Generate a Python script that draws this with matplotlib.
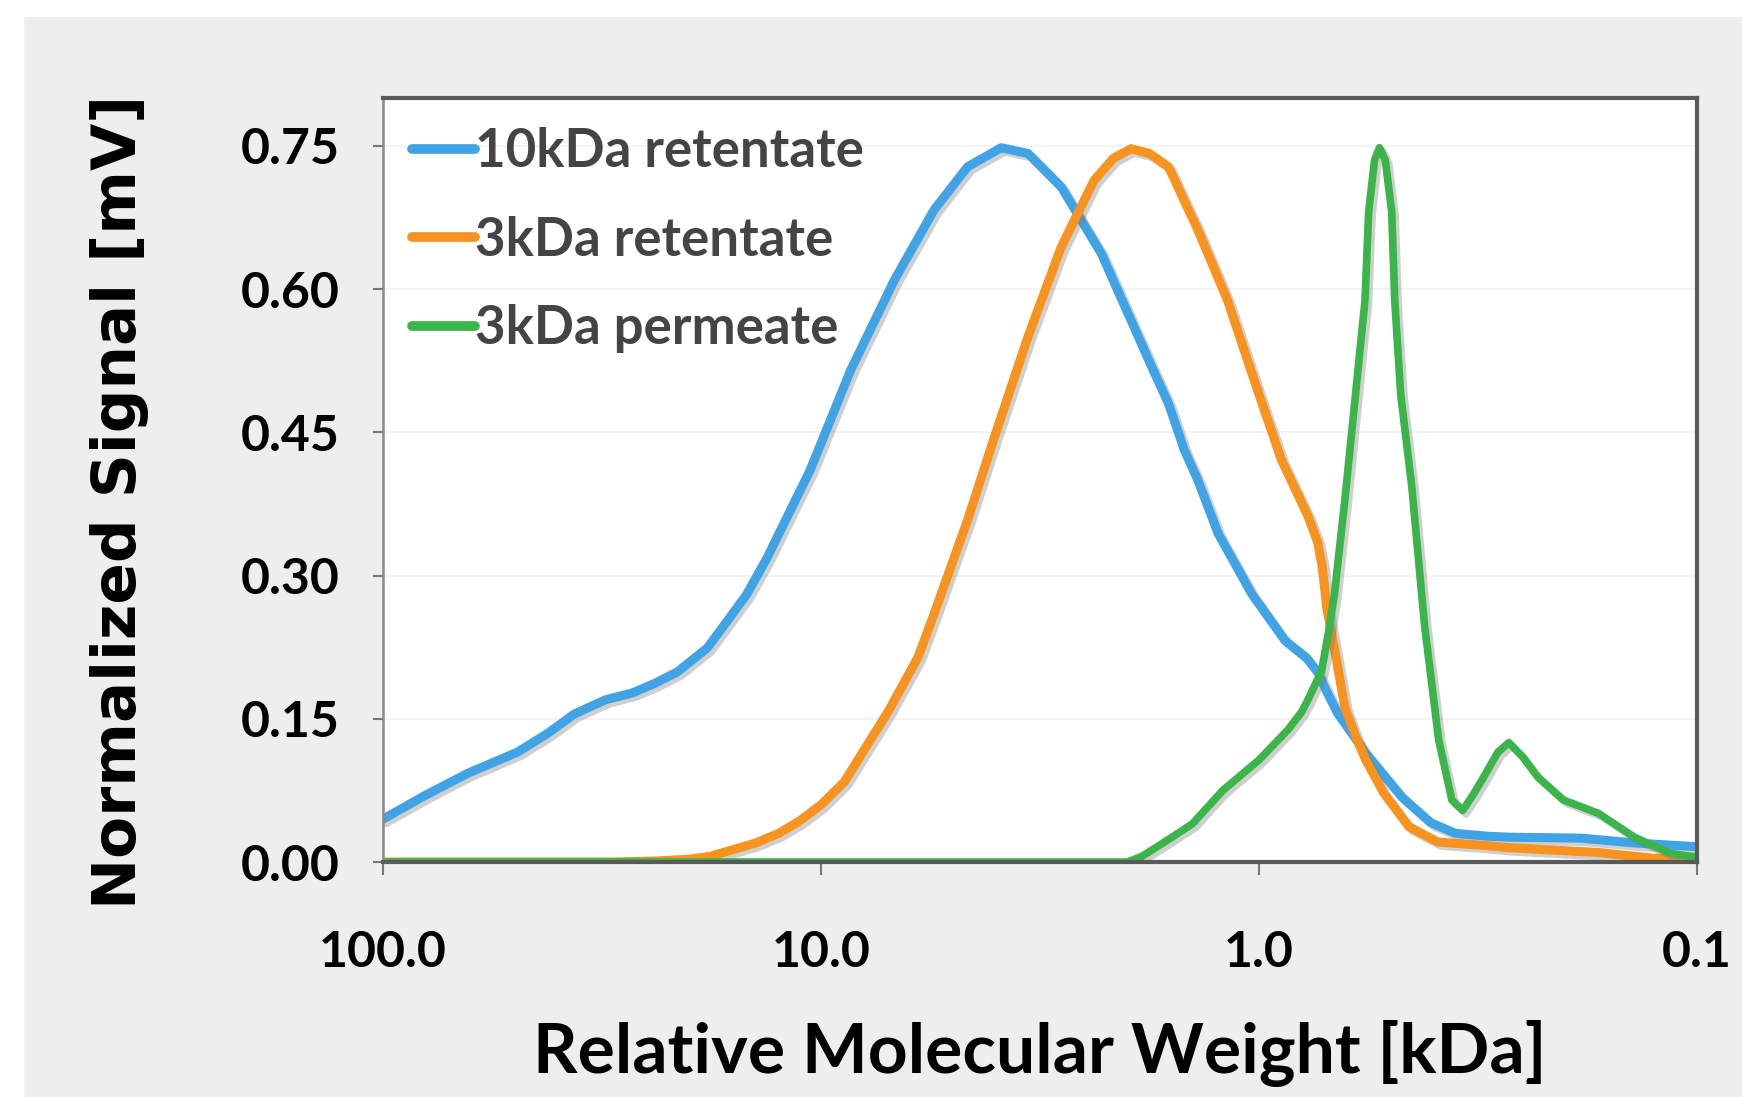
import numpy as np
import matplotlib
matplotlib.use('Agg')
import matplotlib.pyplot as plt
import matplotlib.patheffects as pe
from matplotlib.patches import Rectangle

# molecular weight [kDa] and normalized signal
mw_10k_ret = [100, 80, 64, 49.4, 42, 36.6, 31, 27.0, 24, 21.3, 18.2, 16.4, 14.8, 13.3,
              10.6, 8.56, 6.81, 5.52, 4.63, 3.88, 3.37, 2.83, 2.29, 2.10, 1.92, 1.76,
              1.61, 1.48, 1.38, 1.24, 1.04, 0.873, 0.78, 0.733, 0.70, 0.662, 0.571, 0.472,
              0.405, 0.356, 0.30, 0.269, 0.184, 0.139, 0.1]
sig_10k_ret = [0.045, 0.07, 0.093, 0.115, 0.135, 0.155, 0.17, 0.177, 0.187, 0.199, 0.224, 0.252, 0.28, 0.318,
               0.410, 0.515, 0.609, 0.683, 0.728, 0.748, 0.742, 0.707, 0.637, 0.598, 0.558, 0.519,
               0.48, 0.431, 0.40, 0.344, 0.281, 0.232, 0.214, 0.198, 0.178, 0.156, 0.114, 0.068,
               0.041, 0.030, 0.027, 0.026, 0.025, 0.02, 0.016]

mw_3k_ret = [100, 30, 24, 20, 17.9, 14.1, 12.5, 11.2, 10, 8.85, 7.0, 6.0, 5.52, 4.63,
             4.02, 3.37, 2.83, 2.38, 2.15, 1.96, 1.78, 1.61, 1.38, 1.18, 1.02, 0.889,
             0.773, 0.735, 0.718, 0.700, 0.672, 0.637, 0.600, 0.571, 0.519, 0.455, 0.391, 0.30,
             0.269, 0.168, 0.126, 0.1]
sig_3k_ret = [0.0, 0.0, 0.001, 0.003, 0.006, 0.02, 0.03, 0.043, 0.06, 0.084, 0.159, 0.215, 0.260, 0.358,
              0.445, 0.550, 0.644, 0.714, 0.737, 0.747, 0.742, 0.728, 0.662, 0.588, 0.501, 0.421,
              0.362, 0.335, 0.31, 0.265, 0.222, 0.162, 0.13, 0.107, 0.072, 0.037, 0.021, 0.017,
              0.015, 0.010, 0.004, 0.004]

mw_3k_perm = [100, 2.0, 1.85, 1.75, 1.58, 1.42, 1.21, 1.0, 0.861, 0.80, 0.773, 0.72, 0.695,
              0.673, 0.637, 0.604, 0.573, 0.562, 0.545, 0.531, 0.515, 0.498, 0.490, 0.475,
              0.448, 0.419, 0.389, 0.363, 0.343, 0.325, 0.307, 0.285, 0.269, 0.25, 0.231,
              0.202, 0.168, 0.139, 0.115, 0.1]
sig_3k_perm = [0.0, 0.0, 0.006, 0.013, 0.026, 0.04, 0.075, 0.107, 0.138, 0.157, 0.170, 0.20, 0.239,
               0.28, 0.379, 0.484, 0.588, 0.681, 0.735, 0.748, 0.735, 0.681, 0.588, 0.49,
               0.393, 0.248, 0.128, 0.065, 0.054, 0.07, 0.089, 0.115, 0.125, 0.11, 0.089,
               0.065, 0.051, 0.026, 0.009, 0.005]

series_names = ['10kDa retentate', '3kDa retentate', '3kDa permeate']
series_colors = ['#3fa3e5', '#f7931e', '#3bb54a']

y_ticks = [0.0, 0.15, 0.30, 0.45, 0.60, 0.75]
x_ticks = [100, 10, 1, 0.1]
x_tick_labels = ['100.0', '10.0', '1.0', '0.1']

narrow = ['Liberation Sans Narrow', 'Lato', 'DejaVu Sans']

fig = plt.figure(figsize=(17.42, 10.97), dpi=100)
fig.patch.set_facecolor('#eeeeee')
# white margin at the top and left of the scanned figure
fig.patches.append(Rectangle((0, 0.985), 1, 0.02, transform=fig.transFigure,
                             color='white', zorder=0))
fig.patches.append(Rectangle((0, 0), 0.013, 1, transform=fig.transFigure,
                             color='white', zorder=0))

ax = fig.add_axes([0.2199, 0.2142, 0.7543, 0.6964])
ax.set_facecolor('white')

shadow = [pe.SimpleLineShadow(offset=(2.5, -2.5), shadow_color='#777777', alpha=0.35), pe.Normal()]
data = [(mw_10k_ret, sig_10k_ret, 6.5), (mw_3k_ret, sig_3k_ret, 6.5), (mw_3k_perm, sig_3k_perm, 5.5)]
for (x, y, lw), name, col in zip(data, series_names, series_colors):
    ax.plot(x, y, color=col, lw=lw, label=name, solid_capstyle='round',
            solid_joinstyle='round', path_effects=shadow)

ax.set_xscale('log')
ax.set_xlim(100, 0.1)
ax.set_ylim(0, 0.80)
ax.set_xticks(x_ticks)
ax.set_xticklabels(x_tick_labels)
ax.minorticks_off()
ax.set_yticks(y_ticks)
ax.set_yticklabels(['%.2f' % v for v in y_ticks])

for lab in ax.get_xticklabels() + ax.get_yticklabels():
    lab.set_family(narrow)
    lab.set_fontweight('bold')
    lab.set_fontsize(36)
    lab.set_color('black')
ax.tick_params(axis='x', length=9, width=1.5, color='#777777', pad=40)
ax.tick_params(axis='y', length=7, width=1.5, color='#777777', pad=24)

ax.grid(axis='y', color='#f2f2f2', lw=1.2)
ax.set_axisbelow(True)

for side in ['top', 'right', 'bottom']:
    ax.spines[side].set_color('#5a5a5a')
    ax.spines[side].set_linewidth(3)
ax.spines['left'].set_color('#8a8a8a')
ax.spines['left'].set_linewidth(1.8)

ax.set_xlabel('Relative Molecular Weight [kDa]', family=narrow, fontweight='bold',
              fontsize=50, labelpad=32)
ax.set_ylabel('Normalized Signal [mV]', family='DejaVu Sans', fontweight='bold',
              fontsize=44)
ax.yaxis.set_label_coords(-0.178, 0.471)

leg = ax.legend(loc='upper left', frameon=False, handlelength=1.2, handletextpad=0.0,
                borderaxespad=0.2, labelspacing=0.75, borderpad=0.35,
                prop={'family': narrow, 'weight': 'bold', 'size': 38})
for t in leg.get_texts():
    t.set_color('#444444')
for h in leg.get_lines():
    h.set_linewidth(7)
    h.set_path_effects([])

fig.savefig('out.png', dpi=100, facecolor=fig.get_facecolor())
